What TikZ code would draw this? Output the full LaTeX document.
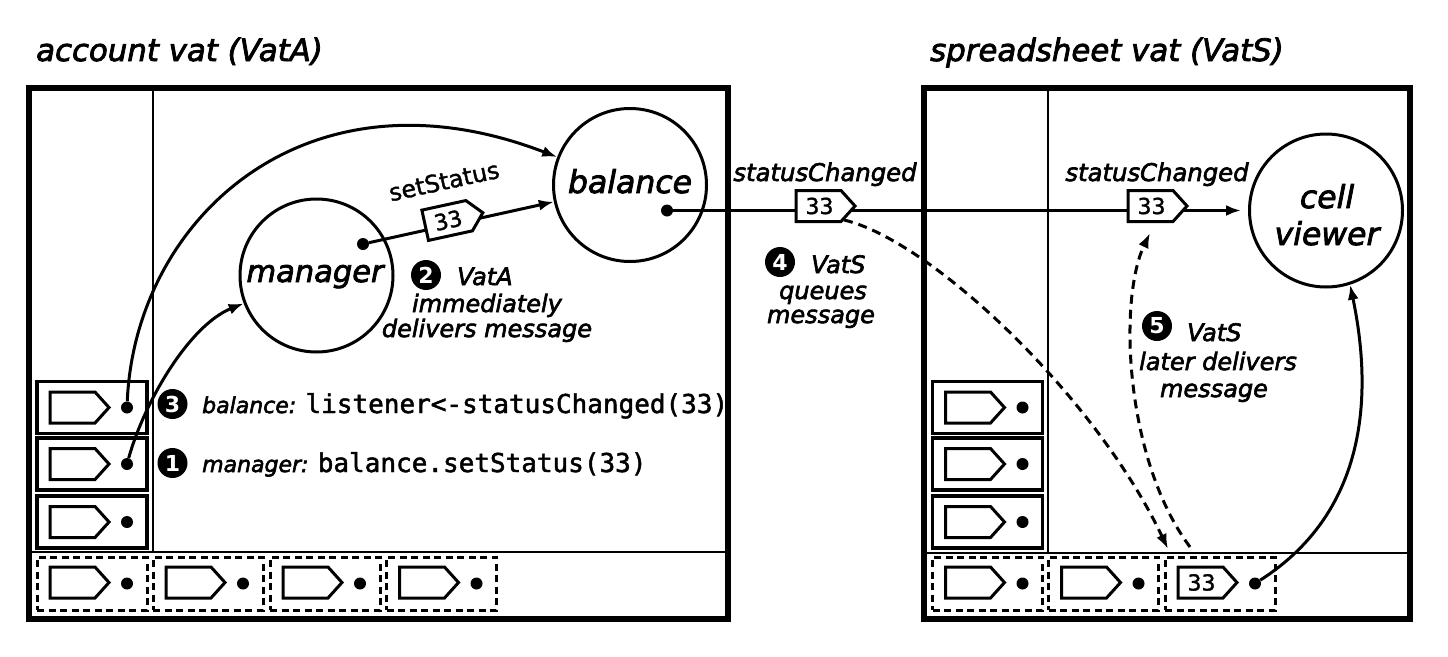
\documentclass[tikz,border=0pt]{standalone}
\usepackage{fontspec}
\setmainfont{DejaVu Sans}[ItalicFeatures={FakeBold=2.6}, UprightFeatures={FakeBold=1.5}]
\setmonofont{DejaVu Sans Mono}[FakeBold=1.8]
\usetikzlibrary{arrows.meta, calc}
\tikzset{
  vatbox/.style={draw, line width=6pt, rectangle, inner sep=0pt},
  divider/.style={line width=1.5pt},
  frm/.style={draw, line width=3.5pt, rectangle, minimum width=110pt, minimum height=52pt, inner sep=0pt},
  qbox/.style={draw, line width=3pt, dash pattern=on 7pt off 4.5pt, rectangle, minimum width=110pt, minimum height=53pt, inner sep=0pt},
  tagbody/.style={draw, fill=white, line width=3pt, line join=miter},
  tagtext/.style={inner sep=0pt, font=\fontsize{22}{22}\selectfont},
  pdot/.style={circle, fill=black, inner sep=0pt, minimum size=12pt},
  actor/.style={circle, draw, line width=3pt, minimum size=153pt, inner sep=0pt},
  aname/.style={inner sep=0pt, font=\fontsize{31.5}{37}\selectfont\itshape},
  conn/.style={line width=3pt, -{Latex[length=15pt,width=11pt]}},
  dconn/.style={line width=3pt, dash pattern=on 9pt off 6pt, -{Latex[length=15pt,width=11pt]}},
  numc/.style={circle, fill=black, text=white, inner sep=0pt, minimum size=30pt, font=\fontsize{22}{22}\selectfont\bfseries},
  stp/.style={inner sep=0pt, font=\fontsize{24}{26}\selectfont\itshape},
  ttl/.style={inner sep=0pt, font=\fontsize{30.8}{36}\selectfont\itshape},
  msglbl/.style={inner sep=0pt, font=\fontsize{24.3}{28}\selectfont\itshape},
}
% message tag: [scope options]{name}{centre}{text}
\newcommand{\msgtag}[4][]{%
  \begin{scope}[shift={#3}, #1]
    \draw[tagbody] (-29.5,-15.5) -- (15.5,-15.5) -- (29.5,0) -- (15.5,15.5) -- (-29.5,15.5) -- cycle;
    \node[tagtext, transform shape] (#2) at (-6,0) {#4};
  \end{scope}}
\begin{document}
\begin{tikzpicture}[x=1pt,y=-1pt]
\useasboundingbox (0,0) rectangle (1448,656);

% titles
\node[ttl, anchor=base west] (tA) at (36,61) {account vat (VatA)};
\node[ttl, anchor=base west] (tS) at (930,61) {spreadsheet vat (VatS)};

% vats
\node[vatbox, minimum width=699pt, minimum height=531pt] (vatA) at (378,353) {};
\node[vatbox, minimum width=486pt, minimum height=531pt] (vatS) at (1166.5,353) {};
\draw[divider] (153,87.5) -- (153,552);
\draw[divider] (28.5,552) -- (727.5,552);
\draw[divider] (1048,87.5) -- (1048,553);
\draw[divider] (923.5,553) -- (1409.5,553);

% stack frames
\foreach \i/\y in {1/407.5,2/464,3/522} {
  \node[frm] (fa\i) at (92,\y) {};
  \msgtag{ta\i}{(79.5,\y)}{}
  \node[pdot] (da\i) at (127,\y) {};
  \node[frm] (fs\i) at (987.5,\y) {};
  \msgtag{ts\i}{(975,\y)}{}
  \node[pdot] (ds\i) at (1022.5,\y) {};
}
% queues
\foreach \i/\x in {1/92,2/208,3/325,4/441.5} {
  \node[qbox] (qa\i) at (\x,583.5) {};
  \msgtag{qta\i}{(\x-12.5,582.5)}{}
  \node[pdot] (qda\i) at (\x+35,583.5) {};
}
\foreach \i/\x in {1/987.5,2/1103.5} {
  \node[qbox] (qs\i) at (\x,583.5) {};
  \msgtag{qts\i}{(\x-12.5,582.5)}{}
  \node[pdot] (qds\i) at (\x+35,583.5) {};
}
\node[qbox] (qs3) at (1220,583.5) {};
\msgtag{qts3}{(1207.5,582.5)}{33}
\node[pdot] (qds3) at (1255,583.5) {};

% actors
\node[actor] (bal) at (630,185) {};
\node[aname, anchor=base] (balt) at (630,193) {balance};
\node[actor] (mgr) at (316.5,275.5) {};
\node[aname, anchor=base, font=\fontsize{30.5}{36}\selectfont\itshape] (mgrt) at (315,282) {manager};
\node[actor] (cv) at (1326,210.5) {};
\node[aname, anchor=base] (cvt1) at (1327,208) {cell};
\node[aname, anchor=base] (cvt2) at (1327,245) {viewer};

\node[pdot] (bdot) at (667,210.5) {};
\node[pdot] (mdot) at (363,244) {};

% connectors
\draw[conn, shorten >=7pt] (bdot) -- (cv);
\draw[conn] (mdot) -- (bal);
\draw[conn] (da1) .. controls (135,220) and (305,60) .. (bal.159);
\draw[conn] (da2) .. controls (145,400) and (190,325) .. (mgr.201);
\draw[conn] (qds3) .. controls (1370,510) and (1372,390) .. (cv.-72);

\coordinate (d1s) at (844,220);
\coordinate (d1e) at (1168,549);
\coordinate (d2s) at (1190,547);
\coordinate (d2e) at (1150,233);
\draw[dconn] (d1s) .. controls (930,240) and (1095,395) .. (d1e);
\draw[dconn] (d2s) .. controls (1125,460) and (1118,300) .. (d2e);

% message tags
\msgtag[rotate=12.3]{ss}{(454,219)}{33}
\node[inner sep=0pt, rotate=12.3, font=\fontsize{23.8}{28}\selectfont] (ssl) at (444,181) {setStatus};
\msgtag{sc1}{(825.5,206)}{33}
\msgtag{sc2}{(1157.5,206)}{33}
\node[msglbl, anchor=base] (scl1) at (825,181) {statusChanged};
\node[msglbl, anchor=base] (scl2) at (1157,181) {statusChanged};

% steps
\node[numc] (n3) at (172.5,404) {3};
\node[inner sep=0pt, anchor=base west] (s3) at (202,413) {\fontsize{22}{22}\selectfont\itshape balance: \fontsize{26}{26}\selectfont\upshape\ttfamily listener<-statusChanged(33)};
\node[numc] (n1) at (172.5,463) {1};
\node[inner sep=0pt, anchor=base west] (s1) at (202,472) {\fontsize{22}{22}\selectfont\itshape manager: \fontsize{26}{26}\selectfont\upshape\ttfamily balance.setStatus(33)};

\node[numc] (n2) at (426,275) {2};
\node[stp, anchor=base west] (s2a) at (457,285) {VatA};
\node[stp, anchor=base] (s2b) at (487,312) {immediately};
\node[stp, anchor=base] (s2c) at (487,337) {delivers message};

\node[numc] (n4) at (780,262) {4};
\node[stp, anchor=base west] (s4a) at (811,273) {VatS};
\node[stp, anchor=base] (s4b) at (823,299) {queues};
\node[stp, anchor=base] (s4c) at (821,323) {message};

\node[numc] (n5) at (1157,326) {5};
\node[stp, anchor=base west] (s5a) at (1187,341) {VatS};
\node[stp, anchor=base] (s5b) at (1218,370) {later delivers};
\node[stp, anchor=base] (s5c) at (1214,397) {message};
\end{tikzpicture}
\end{document}
